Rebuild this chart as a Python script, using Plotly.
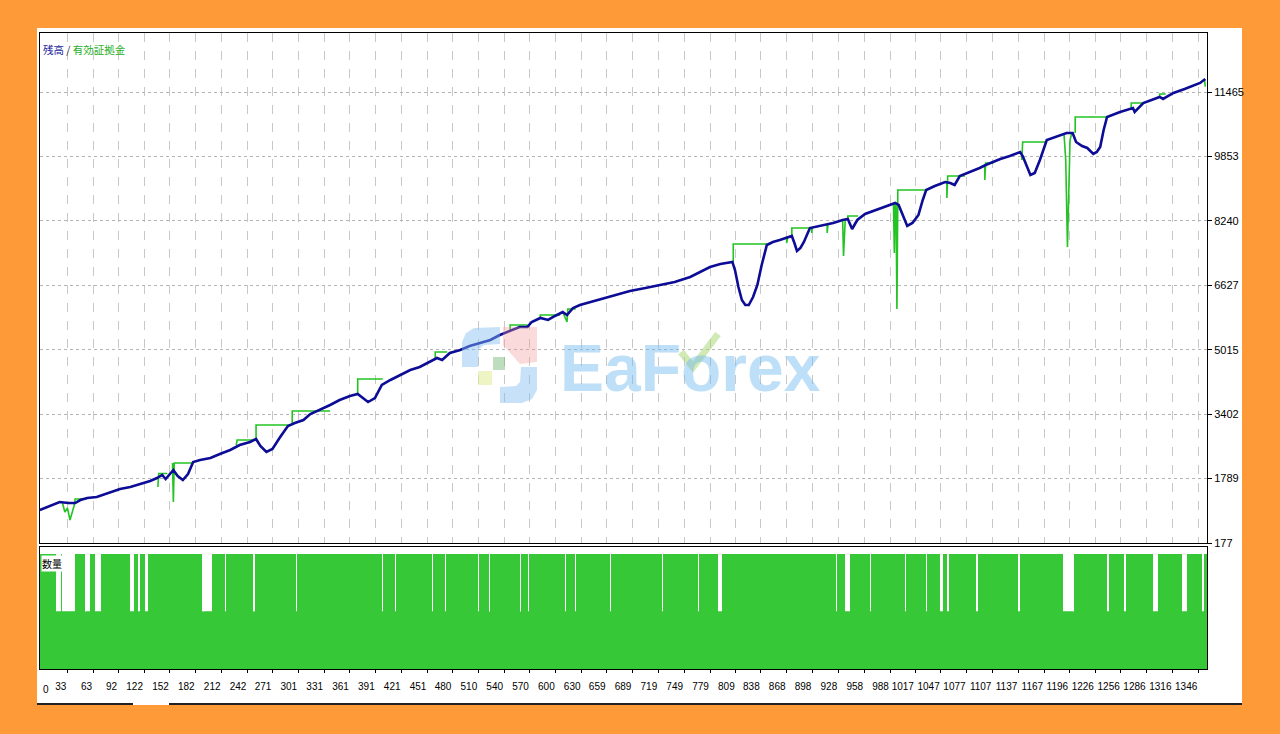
import plotly.graph_objects as go

W, H = 1280, 734

# ---------------- data ----------------
balance_trade = [1, 13, 24, 34, 42, 48, 56, 67, 82, 94, 106, 121, 129, 137, 143, 147, 156, 161, 167, 173,
                 179, 187, 199, 210, 222, 233, 245, 252, 257, 264, 271, 280, 289, 297, 307, 315, 326, 338,
                 349, 361, 370, 375, 382, 390, 398, 408, 419, 431, 442, 454, 462, 468, 477, 489, 500, 512,
                 524, 535, 547, 558, 567, 572, 582, 591, 599, 608, 613, 620, 628, 640, 651, 669, 686, 704,
                 721, 738, 756, 767, 779, 791, 805, 808, 812, 816, 820, 824, 829, 834, 839, 845, 852, 860,
                 868, 874, 877, 880, 884, 888, 895, 907, 922, 933, 939, 944, 950, 959, 971, 982, 994, 998,
                 1003, 1008, 1014, 1021, 1026, 1030, 1040, 1052, 1058, 1063, 1069, 1081, 1092, 1099, 1104,
                 1116, 1127, 1139, 1142, 1146, 1151, 1156, 1162, 1170, 1180, 1193, 1200, 1204, 1211, 1217,
                 1224, 1228, 1232, 1236, 1240, 1255, 1270, 1272, 1282, 1296, 1301, 1305, 1317, 1330, 1342,
                 1348, 1354]
balance_value = [1003, 1103, 1203, 1178, 1178, 1253, 1303, 1328, 1429, 1529, 1579, 1679, 1729, 1804, 1879,
                 1779, 2004, 1854, 1754, 1904, 2204, 2254, 2305, 2405, 2505, 2630, 2705, 2780, 2605, 2455,
                 2530, 2830, 3105, 3181, 3256, 3406, 3506, 3631, 3756, 3856, 3906, 3831, 3706, 3806, 4132,
                 4257, 4382, 4507, 4582, 4707, 4808, 4758, 4933, 5008, 5108, 5183, 5258, 5383, 5484, 5584,
                 5584, 5709, 5809, 5759, 5859, 5959, 5884, 6059, 6134, 6209, 6284, 6384, 6485, 6560, 6635,
                 6710, 6835, 6960, 7085, 7160, 7211, 7010, 6585, 6259, 6134, 6134, 6334, 6635, 7135, 7636,
                 7711, 7761, 7811, 7861, 7686, 7486, 7561, 7711, 8061, 8112, 8187, 8262, 8287, 8036, 8262,
                 8412, 8512, 8587, 8687, 8637, 8387, 8112, 8187, 8387, 8762, 9013, 9113, 9213, 9188, 9138,
                 9363, 9463, 9563, 9638, 9688, 9788, 9864, 9964, 9864, 9638, 9388, 9438, 9764, 10264, 10339,
                 10439, 10439, 10214, 10114, 10064, 9914, 9964, 10089, 10514, 10840, 10965, 11065, 10965,
                 11190, 11291, 11341, 11291, 11441, 11541, 11641, 11691, 11791]

# equity: only the parts that differ from the balance line (None = break)
equity_trade = [27, 30, 33, 36, 41, 42, 55, None,
                138, 139, 149, None,
                155, 156, 157, 179, None,
                229, 230, 252, None,
                252, 252, 290, None,
                294, 294, 338, None,
                370, 370, 399, None,
                460, 460, 474, None,
                547, 547, 567, None,
                582, 582, 605, None,
                608, 613, 614, 623, None,
                806, 806, 845, None,
                868, 868, 869, None,
                874, 874, 895, None,
                897, 897, 898, None,
                915, 915, 916, None,
                933, 934, 936, None,
                939, 939, 951, None,
                992, 993, 994, 995, 996, 997, None,
                997, 997, 1029, None,
                1054, 1054, 1055, 1075, None,
                1098, 1098, 1099, 1108, None,
                1141, 1141, 1142, 1168, None,
                1190, 1192, 1194, 1197, 1199, None,
                1203, 1203, 1239, None,
                1268, 1268, 1282, None,
                1301, 1301, 1308, None,
                1353, 1354]
equity_value = [1203, 953, 1053, 753, 1128, 1278, 1278, None,
                1579, 1915, 1915, None,
                2179, 1203, 2179, 2179, None,
                2630, 2755, 2755, None,
                2755, 3131, 3131, None,
                3181, 3481, 3481, None,
                3906, 4282, 4282, None,
                4758, 4958, 4958, None,
                5484, 5634, 5634, None,
                5809, 5884, 5884, None,
                5959, 5709, 6034, 6034, None,
                7211, 7661, 7661, None,
                7811, 7686, 7811, None,
                7861, 8061, 8061, None,
                8080, 7936, 8080, None,
                8150, 7936, 8150, None,
                8262, 7361, 8262, None,
                8287, 8362, 8362, None,
                8687, 7436, 8687, 8662, 6034, 8662, None,
                8662, 9013, 9013, None,
                9213, 8812, 9363, 9363, None,
                9638, 9263, 9688, 9688, None,
                9964, 9764, 10214, 10214, None,
                10414, 9764, 7586, 10264, 10439, None,
                10439, 10840, 10840, None,
                11065, 11190, 11190, None,
                11341, 11416, 11416, None,
                11791, 11600]

n_trades = 1356
lot_tall = 0.02
lot_short = 0.01
short_lot_ranges = [[20, 25], [27, 42], [53, 59], [65, 72], [106, 110], [115, 117], [123, 126],
                    [189, 201], [216, 217], [248, 251], [298, 299], [349, 350], [398, 399], [413, 414],
                    [456, 457], [471, 472], [510, 511], [523, 524], [558, 559], [568, 569], [611, 612],
                    [622, 623], [663, 664], [723, 724], [765, 766], [788, 793], [925, 926], [936, 941],
                    [965, 966], [991, 992], [1005, 1006], [1030, 1031], [1046, 1049], [1054, 1056],
                    [1088, 1090], [1137, 1139], [1189, 1202], [1240, 1242], [1260, 1262], [1293, 1299],
                    [1327, 1333], [1350, 1353]]

x_tick_vals = [33, 63, 92, 122, 152, 182, 212, 242, 271, 301, 331, 361, 391, 421, 451, 480, 510, 540,
               570, 600, 630, 659, 689, 719, 749, 779, 809, 838, 868, 898, 928, 958, 988, 1017, 1047,
               1077, 1107, 1137, 1167, 1196, 1226, 1256, 1286, 1316, 1346]
y_tick_vals = [177, 1789, 3402, 5015, 6627, 8240, 9853, 11465]

# ---------------- build ----------------
trades = list(range(1, n_trades + 1))
volumes = [lot_tall] * n_trades
for a, b in short_lot_ranges:
    for t in range(a, b + 1):
        volumes[t - 1] = lot_short


def px(x):
    return x / W


def py(y):
    return 1 - y / H


TICKFONT = "Liberation Sans, Arial, sans-serif"
CJK = "Noto Sans CJK JP, Noto Sans CJK SC, sans-serif"

fig = go.Figure()
fig.add_trace(go.Bar(x=trades, y=volumes,
                     marker=dict(color="#36C836", line=dict(width=0)),
                     xaxis="x2", yaxis="y2", showlegend=False, hoverinfo="skip"))
fig.add_trace(go.Scatter(x=equity_trade, y=equity_value, mode="lines", connectgaps=False,
                         line=dict(color="#22C322", width=1.6), showlegend=False))
fig.add_trace(go.Scatter(x=balance_trade, y=balance_value, mode="lines",
                         line=dict(color="#0C0C96", width=2.6), showlegend=False))

xdom = [px(40), px(1207)]
xr = [1.16, 1356]

fig.update_layout(
    width=W, height=H, template="none",
    margin=dict(l=0, r=0, t=0, b=0),
    paper_bgcolor="#FE9A37", plot_bgcolor="white",
    bargap=0.2, showlegend=False,
    xaxis=dict(domain=xdom, range=xr, anchor="y", tickvals=x_tick_vals, showticklabels=False,
               showgrid=True, gridcolor="#C8C8C8", griddash="dash", gridwidth=1, ticks="",
               showline=True, mirror=True, linecolor="black", linewidth=1, zeroline=False),
    yaxis=dict(domain=[py(543), py(33)], range=[177, 12942], anchor="x", side="right",
               tickvals=y_tick_vals, ticktext=[str(v) for v in y_tick_vals],
               ticks="outside", ticklen=4, tickcolor="black",
               tickfont=dict(family=TICKFONT, size=11, color="black"),
               showgrid=True, gridcolor="#B4B4B4", griddash="dot", gridwidth=1,
               showline=True, mirror=True, linecolor="black", linewidth=1, zeroline=False),
    xaxis2=dict(domain=xdom, range=xr, anchor="y2", tickvals=x_tick_vals,
                ticktext=[str(v) for v in x_tick_vals], ticks="outside", ticklen=3,
                tickcolor="black", ticklabelposition="outside left", tickangle=0,
                ticklabelstandoff=8,
                tickfont=dict(family=TICKFONT, size=10, color="black"),
                showgrid=False, showline=True, mirror=True, linecolor="black", linewidth=1.2,
                zeroline=False),
    yaxis2=dict(domain=[py(669), py(547)], range=[0, 0.0212], anchor="x2", showticklabels=False,
                ticks="", showgrid=False, showline=True, mirror=True, linecolor="black",
                linewidth=1, zeroline=False),
)

shapes = [
    dict(type="rect", xref="paper", yref="paper", x0=px(37), x1=px(1242), y0=py(705), y1=py(28),
         fillcolor="white", line=dict(width=0), layer="below"),
    dict(type="line", xref="paper", yref="paper", x0=px(37), x1=px(133), y0=py(704), y1=py(704),
         line=dict(color="#222", width=2)),
    dict(type="line", xref="paper", yref="paper", x0=px(169), x1=px(1242), y0=py(704), y1=py(704),
         line=dict(color="#222", width=2)),
]


def path(pts):
    s = "M " + " L ".join(f"{px(a):.5f},{py(b):.5f}" for a, b in pts) + " Z"
    return s


# watermark logo (decorative)
shapes += [
    dict(type="path", xref="paper", yref="paper",
         path=path([(462, 367), (462, 342), (466, 333), (474, 328), (500, 327), (500, 344),
                    (484, 345), (479, 349), (478, 367)]),
         fillcolor="rgba(130,190,240,0.45)", line=dict(width=0), layer="above"),
    dict(type="path", xref="paper", yref="paper",
         path=path([(503, 327), (537, 327), (537, 362), (520, 364), (503, 345)]),
         fillcolor="rgba(240,150,150,0.35)", line=dict(width=0), layer="above"),
    dict(type="rect", xref="paper", yref="paper", x0=px(493), x1=px(505), y0=py(370), y1=py(357),
         fillcolor="rgba(110,180,110,0.45)", line=dict(width=0), layer="above"),
    dict(type="rect", xref="paper", yref="paper", x0=px(478), x1=px(492), y0=py(385), y1=py(371),
         fillcolor="rgba(225,235,150,0.55)", line=dict(width=0), layer="above"),
    dict(type="path", xref="paper", yref="paper",
         path=path([(537, 367), (537, 390), (532, 399), (522, 403), (500, 403), (500, 387),
                    (516, 386), (520, 382), (521, 367)]),
         fillcolor="rgba(130,190,240,0.45)", line=dict(width=0), layer="above"),
    dict(type="path", xref="paper", yref="paper",
         path=f"M {px(681):.5f},{py(352):.5f} L {px(693):.5f},{py(367):.5f} L {px(718):.5f},{py(334):.5f}",
         line=dict(color="rgba(170,215,120,0.55)", width=7), layer="above"),
]
fig.update_layout(shapes=shapes)

annotations = [
    dict(xref="paper", yref="paper", x=px(41), y=py(49), xanchor="left", yanchor="middle",
         showarrow=False,
         text='<span style="color:#1A1AA0">残高</span><span style="color:#333"> / </span>'
              '<span style="color:#1FAF1F">有効証拠金</span>',
         font=dict(family=CJK, size=10.5)),
    dict(xref="paper", yref="paper", x=px(41), y=py(555), xanchor="left", yanchor="top",
         showarrow=False, text="数量", bgcolor="white", borderpad=0,
         font=dict(family=CJK, size=10, color="black")),
    dict(xref="paper", yref="paper", x=px(41), y=py(689), xanchor="left", yanchor="middle",
         showarrow=False, text="0", font=dict(family=TICKFONT, size=10, color="black")),
    dict(xref="paper", yref="paper", x=px(690), y=py(368), xanchor="center", yanchor="middle",
         showarrow=False, text="<b>EaForex</b>",
         font=dict(family="Liberation Sans, Arial, sans-serif", size=66,
                   color="rgba(110,185,240,0.45)")),
]
fig.update_layout(annotations=annotations)

fig.write_html("out.html", config={"displayModeBar": False},
               post_script="document.body.style.margin='0';document.body.style.overflow='hidden';")
